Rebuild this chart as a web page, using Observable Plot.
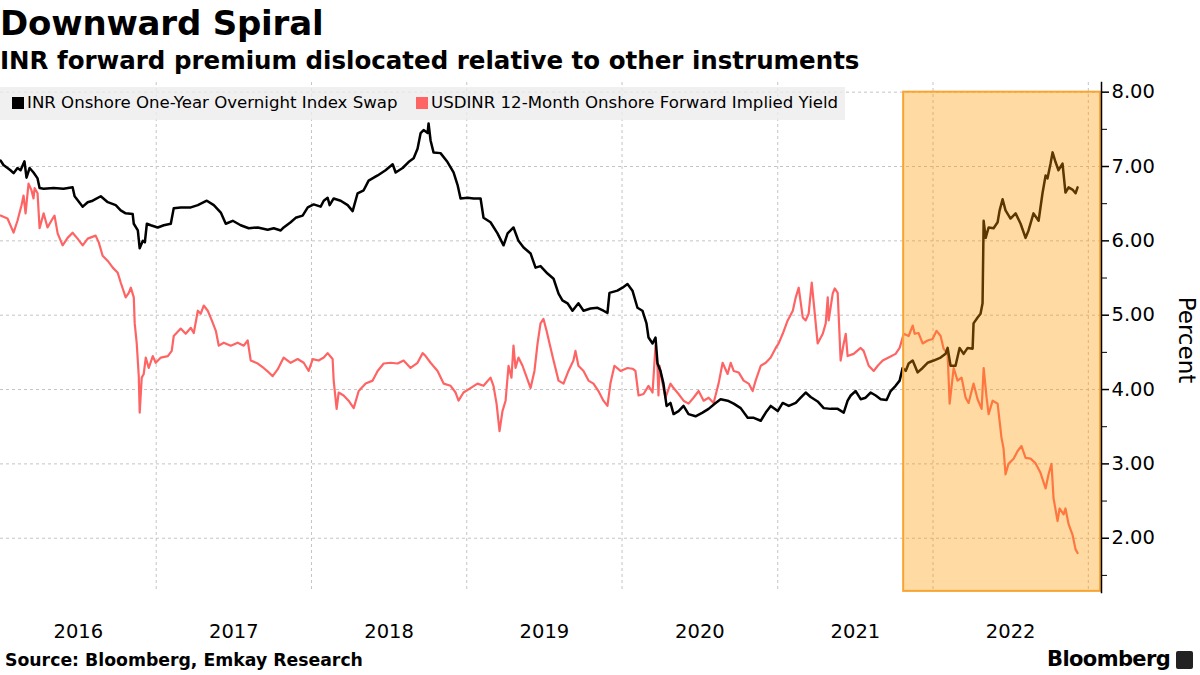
<!DOCTYPE html>
<html>
<head>
<meta charset="utf-8">
<script src="https://cdn.jsdelivr.net/npm/d3@7"></script>
<script src="https://cdn.jsdelivr.net/npm/@observablehq/plot@0.6"></script>
<style>
  html, body { margin: 0; padding: 0; background: #fff; }
  body { width: 1200px; height: 675px; position: relative; overflow: hidden; font-family: "DejaVu Sans", sans-serif; color: #000; }
  #title { position: absolute; left: 0px; top: 3px; font-size: 34px; font-weight: bold; letter-spacing: -0.2px; }
  #subtitle { position: absolute; left: 0px; top: 46px; font-size: 24.5px; font-weight: bold; }
  #legend { position: absolute; left: 0; top: 87px; width: 845px; height: 33px; background: rgba(236,236,236,0.8); font-size: 16.6px; z-index: 2; }
  .lg { position: absolute; top: 6px; white-space: nowrap; }
  .sw { display: inline-block; width: 12px; height: 12px; margin-right: 3px; vertical-align: -1px; }
  #chart { position: absolute; left: 0; top: 75px; }
  #ylabel { position: absolute; left: 1142px; top: 327px; font-size: 23px; transform: rotate(90deg); transform-origin: center; width: 90px; text-align: center; }
  #source { position: absolute; left: 5px; top: 650px; font-size: 17.3px; font-weight: bold; }
  #logo { position: absolute; left: 1047px; top: 647px; font-size: 21px; font-weight: bold; letter-spacing: -0.6px; }
  #icon { position: absolute; left: 1176px; top: 651px; width: 17px; height: 18px; background: #222; border-radius: 2px; }
</style>
</head>
<body>
<div id="title">Downward Spiral</div>
<div id="subtitle">INR forward premium dislocated relative to other instruments</div>
<div id="legend">
  <div class="lg" style="left:12px"><span class="sw" style="background:#000"></span>INR Onshore One-Year Overnight Index Swap</div>
  <div class="lg" style="left:416px"><span class="sw" style="background:#ff6464"></span>USDINR 12-Month Onshore Forward Implied Yield</div>
</div>
<div id="chart"></div>
<div id="ylabel">Percent</div>
<div id="source">Source: Bloomberg, Emkay Research</div>
<div id="logo">Bloomberg</div>
<div id="icon"></div>
<script>
// ---- Data (time as decimal years, values in percent) ----
const oisYear = [2016.000,2016.019,2016.045,2016.064,2016.084,2016.109,2016.129,2016.154,2016.167,2016.187,2016.212,2016.238,2016.251,2016.277,2016.341,2016.405,2016.463,2016.476,2016.528,2016.560,2016.592,2016.644,2016.689,2016.740,2016.772,2016.804,2016.849,2016.856,2016.882,2016.894,2016.914,2016.927,2016.940,2016.965,2017.010,2017.049,2017.094,2017.113,2017.158,2017.223,2017.268,2017.326,2017.371,2017.416,2017.448,2017.493,2017.544,2017.596,2017.654,2017.718,2017.757,2017.802,2017.821,2017.866,2017.898,2017.943,2017.976,2018.014,2018.059,2018.079,2018.104,2018.117,2018.143,2018.188,2018.233,2018.265,2018.297,2018.336,2018.368,2018.426,2018.477,2018.523,2018.542,2018.587,2018.625,2018.658,2018.683,2018.703,2018.722,2018.748,2018.754,2018.767,2018.786,2018.831,2018.876,2018.915,2018.941,2018.960,2019.005,2019.044,2019.089,2019.108,2019.153,2019.198,2019.237,2019.263,2019.301,2019.333,2019.366,2019.411,2019.443,2019.475,2019.520,2019.559,2019.591,2019.616,2019.649,2019.681,2019.719,2019.752,2019.797,2019.842,2019.880,2019.906,2019.919,2019.970,2020.003,2020.035,2020.067,2020.099,2020.131,2020.157,2020.170,2020.196,2020.215,2020.228,2020.247,2020.266,2020.286,2020.311,2020.331,2020.363,2020.395,2020.427,2020.472,2020.517,2020.556,2020.601,2020.633,2020.678,2020.717,2020.762,2020.807,2020.846,2020.891,2020.923,2020.955,2021.000,2021.032,2021.071,2021.116,2021.148,2021.180,2021.212,2021.257,2021.296,2021.341,2021.386,2021.425,2021.450,2021.470,2021.502,2021.534,2021.566,2021.598,2021.631,2021.663,2021.701,2021.727,2021.759,2021.785,2021.804,2021.824,2021.843,2021.869,2021.901,2021.933,2021.965,2022.004,2022.049,2022.081,2022.094,2022.113,2022.145,2022.171,2022.197,2022.223,2022.255,2022.261,2022.287,2022.306,2022.319,2022.326,2022.339,2022.358,2022.390,2022.416,2022.429,2022.448,2022.467,2022.499,2022.532,2022.564,2022.596,2022.615,2022.647,2022.680,2022.705,2022.725,2022.737,2022.757,2022.770,2022.789,2022.808,2022.834,2022.853,2022.873,2022.898,2022.918,2022.931];
const oisValue = [7.08,7.02,6.98,6.95,6.91,6.98,6.95,7.07,6.85,6.98,6.92,6.84,6.71,6.70,6.71,6.70,6.72,6.60,6.46,6.52,6.54,6.60,6.52,6.48,6.41,6.37,6.36,6.23,6.14,5.90,6.00,5.98,6.23,6.21,6.18,6.21,6.23,6.44,6.45,6.45,6.48,6.54,6.48,6.38,6.23,6.27,6.21,6.17,6.18,6.15,6.17,6.14,6.18,6.25,6.31,6.34,6.45,6.49,6.46,6.54,6.58,6.48,6.57,6.54,6.48,6.40,6.64,6.68,6.81,6.88,6.95,7.03,6.92,6.98,7.06,7.11,7.24,7.45,7.49,7.45,7.58,7.35,7.19,7.18,7.06,6.92,6.75,6.57,6.58,6.57,6.57,6.31,6.25,6.10,5.94,6.10,6.18,6.00,5.91,5.83,5.64,5.66,5.56,5.49,5.29,5.20,5.16,5.06,5.16,5.06,5.09,5.10,5.06,5.03,5.30,5.33,5.37,5.42,5.33,5.10,5.06,4.89,4.70,4.62,4.70,4.35,4.25,4.08,3.78,3.82,3.67,3.71,3.78,3.67,3.64,3.69,3.74,3.82,3.87,3.85,3.81,3.75,3.62,3.62,3.58,3.69,3.78,3.71,3.82,3.78,3.82,3.89,3.96,3.90,3.84,3.75,3.74,3.74,3.69,3.85,3.92,3.98,3.87,3.89,3.96,3.92,3.87,3.86,3.98,4.05,4.12,4.29,4.25,4.35,4.39,4.23,4.29,4.36,4.39,4.43,4.48,4.56,4.32,4.32,4.56,4.48,4.56,4.55,4.89,4.97,5.02,5.16,6.27,6.04,6.18,6.17,6.25,6.41,6.56,6.41,6.30,6.37,6.23,6.04,6.14,6.37,6.27,6.64,6.88,6.84,7.04,7.19,7.06,6.95,7.04,6.65,6.72,6.69,6.64,6.72];

const fwdYear = [2016.000,2016.045,2016.084,2016.109,2016.135,2016.148,2016.161,2016.180,2016.199,2016.212,2016.219,2016.238,2016.251,2016.277,2016.302,2016.335,2016.347,2016.367,2016.399,2016.431,2016.463,2016.495,2016.528,2016.560,2016.611,2016.631,2016.656,2016.689,2016.721,2016.753,2016.772,2016.804,2016.824,2016.837,2016.856,2016.862,2016.875,2016.888,2016.894,2016.907,2016.920,2016.933,2016.952,2016.978,2016.997,2017.030,2017.075,2017.100,2017.113,2017.158,2017.190,2017.223,2017.242,2017.268,2017.287,2017.306,2017.332,2017.358,2017.384,2017.403,2017.435,2017.480,2017.525,2017.564,2017.589,2017.609,2017.654,2017.692,2017.725,2017.750,2017.782,2017.821,2017.866,2017.911,2017.950,2017.982,2018.008,2018.046,2018.079,2018.104,2018.136,2018.143,2018.162,2018.175,2018.207,2018.239,2018.272,2018.304,2018.349,2018.394,2018.426,2018.465,2018.510,2018.555,2018.593,2018.638,2018.683,2018.716,2018.735,2018.767,2018.812,2018.851,2018.896,2018.928,2018.947,2018.979,2019.024,2019.069,2019.108,2019.153,2019.172,2019.192,2019.211,2019.230,2019.250,2019.269,2019.288,2019.301,2019.314,2019.333,2019.359,2019.378,2019.411,2019.436,2019.456,2019.475,2019.494,2019.514,2019.533,2019.559,2019.591,2019.623,2019.655,2019.687,2019.700,2019.719,2019.752,2019.784,2019.816,2019.848,2019.880,2019.906,2019.925,2019.951,2019.990,2020.035,2020.067,2020.086,2020.106,2020.138,2020.170,2020.196,2020.215,2020.228,2020.234,2020.241,2020.260,2020.279,2020.311,2020.331,2020.363,2020.395,2020.427,2020.459,2020.492,2020.524,2020.556,2020.588,2020.620,2020.646,2020.678,2020.698,2020.717,2020.749,2020.781,2020.813,2020.839,2020.858,2020.891,2020.923,2020.955,2020.987,2021.006,2021.032,2021.064,2021.097,2021.116,2021.135,2021.161,2021.180,2021.199,2021.219,2021.232,2021.257,2021.290,2021.309,2021.322,2021.328,2021.354,2021.367,2021.386,2021.405,2021.425,2021.438,2021.450,2021.489,2021.534,2021.553,2021.586,2021.618,2021.644,2021.676,2021.714,2021.759,2021.785,2021.811,2021.843,2021.869,2021.882,2021.907,2021.933,2021.965,2021.997,2022.023,2022.049,2022.068,2022.094,2022.107,2022.133,2022.158,2022.184,2022.210,2022.229,2022.261,2022.287,2022.313,2022.326,2022.345,2022.358,2022.384,2022.416,2022.441,2022.454,2022.467,2022.486,2022.519,2022.544,2022.570,2022.596,2022.628,2022.660,2022.692,2022.725,2022.744,2022.763,2022.776,2022.802,2022.815,2022.841,2022.853,2022.873,2022.898,2022.918,2022.931];
const fwdValue = [6.34,6.30,6.11,6.27,6.48,6.61,6.37,6.77,6.68,6.57,6.71,6.64,6.17,6.37,6.18,6.30,6.34,6.10,5.94,6.04,6.11,6.03,5.94,6.03,6.07,5.98,5.80,5.73,5.64,5.57,5.44,5.24,5.30,5.37,5.24,4.89,4.62,4.18,3.69,4.16,4.21,4.43,4.29,4.45,4.36,4.43,4.45,4.52,4.72,4.82,4.75,4.83,4.76,5.06,5.02,5.13,5.06,4.93,4.79,4.59,4.63,4.59,4.63,4.59,4.66,4.39,4.35,4.29,4.23,4.18,4.27,4.43,4.36,4.41,4.36,4.25,4.41,4.39,4.43,4.49,4.41,4.12,3.74,3.96,3.92,3.85,3.75,3.98,4.08,4.12,4.25,4.35,4.36,4.35,4.39,4.29,4.36,4.49,4.45,4.36,4.25,4.08,4.05,3.96,3.85,3.96,4.02,4.08,4.05,4.16,4.05,3.81,3.44,3.71,3.85,4.32,4.16,4.59,4.29,4.43,4.32,4.21,4.02,4.25,4.62,4.89,4.95,4.79,4.62,4.39,4.12,4.08,4.25,4.39,4.52,4.32,4.25,4.12,4.08,3.98,3.85,3.78,4.08,4.32,4.25,4.29,4.28,4.25,3.92,3.94,4.05,3.96,4.59,4.29,3.92,4.32,4.08,3.89,4.08,4.02,3.94,3.85,3.81,3.89,3.98,3.85,3.89,3.82,4.08,4.36,4.21,4.36,4.25,4.23,4.12,4.08,3.98,4.12,4.32,4.36,4.43,4.56,4.62,4.75,4.93,5.06,5.24,5.37,4.97,4.93,5.02,5.44,5.16,4.62,4.75,4.89,5.24,4.93,5.29,5.36,5.30,4.39,4.62,4.75,4.45,4.48,4.56,4.52,4.32,4.25,4.32,4.39,4.43,4.48,4.56,4.75,4.72,4.86,4.75,4.76,4.62,4.66,4.68,4.79,4.72,4.55,4.48,3.81,4.29,4.12,4.16,3.89,3.82,4.08,3.87,3.74,4.29,3.89,3.67,3.85,3.81,3.35,3.21,2.86,3.00,3.07,3.17,3.24,3.08,3.07,3.01,2.88,2.67,2.86,3.00,2.54,2.23,2.40,2.32,2.40,2.19,2.05,1.85,1.80];

// Highlighted period (decimal years) and value range
const highlightStart = 2021.811;
const highlightEnd = 2023.079;
const highlightTop = 8.00;
const highlightBottom = 1.285;

const yTicks = [2, 3, 4, 5, 6, 7, 8];
const yMinorTicks = [1.5, 2.5, 3.5, 4.5, 5.5, 6.5, 7.5];
const yearLabels = [2016, 2017, 2018, 2019, 2020, 2021, 2022];
const yearGrid = [2017, 2018, 2019, 2020, 2021, 2022, 2023];

// ---- helpers ----
function yd(y) {
  const yr = Math.floor(y);
  const s = Date.UTC(yr, 0, 1), e = Date.UTC(yr + 1, 0, 1);
  return new Date(s + (y - yr) * (e - s));
}
const ois = oisYear.map((t, i) => ({date: yd(t), value: oisValue[i]}));
const fwd = fwdYear.map((t, i) => ({date: yd(t), value: fwdValue[i]}));
const highlight = [{x1: yd(highlightStart), x2: yd(highlightEnd), y1: highlightTop, y2: highlightBottom}];

const chart = Plot.plot({
  width: 1200,
  height: 575,
  marginLeft: 0,
  marginRight: 99,
  marginTop: 7,
  marginBottom: 58,
  style: {fontFamily: "DejaVu Sans", fontSize: "19px", color: "#000", background: "transparent", overflow: "visible"},
  x: {type: "utc", domain: [yd(2016), yd(2023.085)]},
  y: {domain: [1.27, 8.13]},
  marks: [
    Plot.ruleY(yTicks, {stroke: "#c4c4c4", strokeWidth: 1, strokeDasharray: "3,3"}),
    Plot.ruleX(yearGrid.map(yd), {stroke: "#c4c4c4", strokeWidth: 1, strokeDasharray: "3,3"}),
    Plot.line(fwd, {x: "date", y: "value", stroke: "#ff6464", strokeWidth: 2.2}),
    Plot.line(ois, {x: "date", y: "value", stroke: "#000", strokeWidth: 2.5}),
    Plot.rect(highlight, {x1: "x1", x2: "x2", y1: "y1", y2: "y2", fill: "#ff9900", fillOpacity: 0.36, stroke: "#f7a532", strokeWidth: 2}),
    Plot.axisX(yearLabels.map(y => yd(y + 0.5)), {tickSize: 0, tickPadding: 32, tickFormat: d => String(d.getUTCFullYear()), fontSize: 19.5, label: null}),
    Plot.axisY(yTicks, {anchor: "right", tickSize: 7, tickPadding: 3, tickFormat: d => d.toFixed(2), fontSize: 19.5, label: null, strokeWidth: 1.5}),
    Plot.axisY(yMinorTicks, {anchor: "right", tickSize: 5, tickFormat: () => "", label: null}),
    Plot.frame({anchor: "right", stroke: "#000", strokeWidth: 1.5})
  ]
});
document.getElementById("chart").appendChild(chart);
</script>
</body>
</html>
